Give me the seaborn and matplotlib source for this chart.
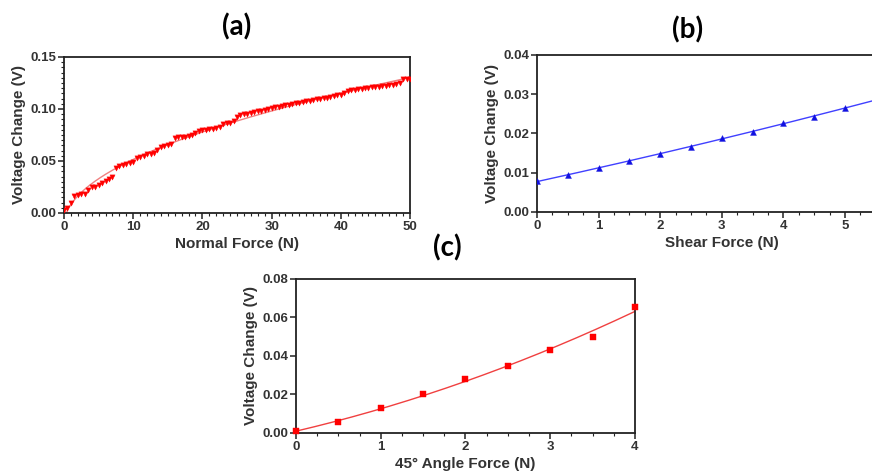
import numpy as np
import pandas as pd
import matplotlib
matplotlib.use("Agg")
import matplotlib.pyplot as plt
import seaborn as sns
from matplotlib.ticker import MultipleLocator, FixedLocator, FormatStrFormatter

sns.set_theme(style="ticks")
plt.rcParams['font.family'] = ['Liberation Sans', 'DejaVu Sans']

# ---- data ----
normal_force = [i * 0.5 for i in range(101)]
normal_voltage = [
    0.003, 0.005, 0.010, 0.016, 0.017, 0.018, 0.018, 0.022, 0.025, 0.025,
    0.027, 0.029, 0.031, 0.033, 0.035, 0.043, 0.045, 0.046, 0.047, 0.048,
    0.049, 0.053, 0.054, 0.055, 0.057, 0.057, 0.058, 0.061, 0.063, 0.064,
    0.065, 0.066, 0.072, 0.073, 0.073, 0.073, 0.074, 0.075, 0.077, 0.079,
    0.080, 0.080, 0.081, 0.081, 0.082, 0.083, 0.086, 0.087, 0.087, 0.088,
    0.092, 0.094, 0.095, 0.095, 0.096, 0.097, 0.098, 0.0985, 0.099, 0.100,
    0.101, 0.1015, 0.102, 0.103, 0.1035, 0.104, 0.105, 0.1055, 0.106, 0.107,
    0.1075, 0.108, 0.109, 0.1095, 0.110, 0.1105, 0.111, 0.112, 0.1125, 0.113,
    0.1135, 0.115, 0.117, 0.118, 0.1185, 0.119, 0.1195, 0.120, 0.1205, 0.121,
    0.121, 0.1215, 0.122, 0.1225, 0.123, 0.1235, 0.124, 0.125, 0.129, 0.129,
    0.129,
]

shear_force = [0, 0.5, 1, 1.5, 2, 2.5, 3, 3.5, 4, 4.5, 5]
shear_voltage = [0.0078, 0.0094, 0.0112, 0.0131, 0.0149, 0.0166, 0.0188,
                 0.0204, 0.0227, 0.0242, 0.0266]

angle_force = [0, 0.5, 1, 1.5, 2, 2.5, 3, 3.5, 4]
angle_voltage = [0.001, 0.0055, 0.0128, 0.0200, 0.0282, 0.0350, 0.0432,
                 0.0498, 0.0655]

titles = ["(a)", "(b)", "(c)"]
xlabels = ["Normal Force (N)", "Shear Force (N)", "45° Angle Force (N)"]
ylabel = "Voltage Change (V)"
shear_ticks = [0, 1, 2, 3, 4, 5]

# ---- fits (derived from the data) ----
xa = np.array(normal_force); ya = np.array(normal_voltage)
A = np.column_stack([np.ones_like(xa), np.sqrt(xa), xa])
coef_a = np.linalg.lstsq(A, ya, rcond=None)[0]
xfa = np.linspace(0, 50, 200)
yfa = coef_a[0] + coef_a[1] * np.sqrt(xfa) + coef_a[2] * xfa

coef_b = np.polyfit(shear_force, shear_voltage, 2)
xfb = np.linspace(0, 6, 200)
yfb = np.polyval(coef_b, xfb)

coef_c = np.polyfit(angle_force, angle_voltage, 2)
xfc = np.linspace(0, 4, 200)
yfc = np.polyval(coef_c, xfc)

fig = plt.figure(figsize=(8.72, 4.73), dpi=100)
ax_a = fig.add_axes([0.0734, 0.5497, 0.3968, 0.3298])
ax_b = fig.add_axes([0.6158, 0.5518, 0.424, 0.332])
ax_c = fig.add_axes([0.3394, 0.0846, 0.3888, 0.3256])

label_font = dict(fontsize=11, fontweight='bold', color='#333333')

# (a)
sns.lineplot(x=xfa, y=yfa, ax=ax_a, color='#f08080', linewidth=1.0)
sns.scatterplot(x=normal_force, y=normal_voltage, ax=ax_a, marker='v',
                color='red', s=14, edgecolor='red', linewidth=0.3, zorder=3)
ax_a.set_xlim(0, 50); ax_a.set_ylim(0, 0.15)
ax_a.xaxis.set_major_locator(MultipleLocator(10))
ax_a.xaxis.set_minor_locator(MultipleLocator(1))
ax_a.yaxis.set_major_locator(MultipleLocator(0.05))
ax_a.yaxis.set_minor_locator(MultipleLocator(0.005))
ax_a.yaxis.set_major_formatter(FormatStrFormatter('%.2f'))

# (b)
sns.lineplot(x=xfb, y=yfb, ax=ax_b, color='#4040ff', linewidth=1.0)
sns.scatterplot(x=shear_force, y=shear_voltage, ax=ax_b, marker='^',
                color='#1010e0', s=18, edgecolor='#1010e0', linewidth=0.3, zorder=3)
ax_b.set_xlim(0, 6); ax_b.set_ylim(0, 0.04)
ax_b.xaxis.set_major_locator(FixedLocator(shear_ticks))
ax_b.xaxis.set_minor_locator(MultipleLocator(0.25))
ax_b.yaxis.set_major_locator(MultipleLocator(0.01))
ax_b.yaxis.set_major_formatter(FormatStrFormatter('%.2f'))

# (c)
sns.lineplot(x=xfc, y=yfc, ax=ax_c, color='#f04040', linewidth=1.0)
sns.scatterplot(x=angle_force, y=angle_voltage, ax=ax_c, marker='s',
                color='red', s=22, edgecolor='red', linewidth=0.3, zorder=3,
                clip_on=False)
ax_c.set_xlim(0, 4); ax_c.set_ylim(0, 0.08)
ax_c.xaxis.set_major_locator(MultipleLocator(1))
ax_c.xaxis.set_minor_locator(MultipleLocator(0.25))
ax_c.yaxis.set_major_locator(MultipleLocator(0.02))
ax_c.yaxis.set_major_formatter(FormatStrFormatter('%.2f'))

for ax, xl in zip([ax_a, ax_b, ax_c], xlabels):
    for side in ['left', 'right', 'top', 'bottom']:
        ax.spines[side].set_visible(True)
        ax.spines[side].set_linewidth(1.3)
        ax.spines[side].set_color('#222222')
    ax.tick_params(which='major', direction='out', length=4, width=1.1,
                   color='#222222', pad=1.5)
    ax.tick_params(which='minor', direction='out', length=2, width=0.8,
                   color='#222222')
    for lab in ax.get_xticklabels() + ax.get_yticklabels():
        lab.set_fontsize(9.5)
        lab.set_fontweight('bold')
        lab.set_color('#333333')
    ax.set_xlabel(xl, **label_font, labelpad=3)
    ax.set_ylabel(ylabel, **label_font, labelpad=3)
    ax.grid(False)

title_kw = dict(fontsize=20, fontweight='bold', family=['Lato', 'DejaVu Sans'],
                ha='center', va='center', color='black')
fig.text(237 / 872, 1 - 27 / 473, titles[0], **title_kw)
fig.text(688 / 872, 1 - 30 / 473, titles[1], **title_kw)
fig.text(447 / 872, 1 - 248 / 473, titles[2], **title_kw)

fig.savefig("out.png", dpi=100)
